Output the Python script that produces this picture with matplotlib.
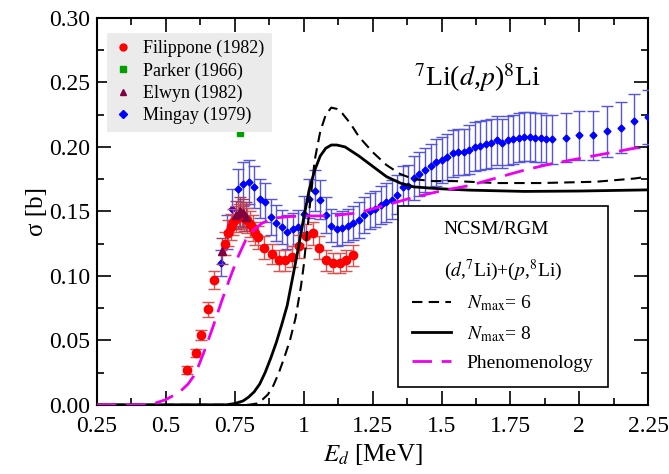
import matplotlib
matplotlib.use('Agg')
from matplotlib import pyplot as plt
from matplotlib.lines import Line2D
from matplotlib.ticker import MultipleLocator, FormatStrFormatter
import numpy as np

plt.rcParams['font.family'] = ['Liberation Serif', 'DejaVu Serif']
plt.rcParams['mathtext.fontset'] = 'stix'

# Filippone (1982)
fil_e = [0.576, 0.608, 0.626, 0.654, 0.676, 0.715, 0.725, 0.735, 0.745, 0.755, 0.765, 0.775,
         0.785, 0.795, 0.805, 0.815, 0.825, 0.835, 0.857, 0.884, 0.910, 0.932, 0.958, 0.984,
         1.007, 1.033, 1.056, 1.080, 1.108, 1.130, 1.154, 1.180]
fil_s = [0.027, 0.040, 0.054, 0.074, 0.097, 0.125, 0.133, 0.138, 0.142, 0.144, 0.146, 0.147,
         0.145, 0.143, 0.140, 0.137, 0.133, 0.130, 0.122, 0.117, 0.112, 0.112, 0.115, 0.123,
         0.131, 0.133, 0.122, 0.112, 0.110, 0.110, 0.112, 0.116]
fil_err = [0.003, 0.003, 0.004, 0.006, 0.007, 0.009, 0.010, 0.010, 0.010, 0.010, 0.010, 0.010,
           0.010, 0.010, 0.010, 0.010, 0.009, 0.009, 0.009, 0.008, 0.008, 0.008, 0.008, 0.009,
           0.009, 0.009, 0.009, 0.008, 0.008, 0.008, 0.008, 0.008]

# Parker (1966)
par_e = [0.769]
par_s = [0.211]
par_xerr = [0.012]

# Elwyn (1982)
elw_e = [0.702, 0.755, 0.768, 0.780, 0.792]
elw_s = [0.119, 0.147, 0.150, 0.149, 0.146]
elw_err = [0.010, 0.011, 0.011, 0.011, 0.011]

# Mingay (1979)
min_e = [0.70, 0.72, 0.74, 0.76, 0.78, 0.80, 0.82, 0.84, 0.86, 0.88, 0.90, 0.92, 0.94, 0.96,
         0.98, 1.00, 1.02, 1.04, 1.06, 1.08, 1.10, 1.12, 1.14, 1.16, 1.18, 1.20, 1.22, 1.24,
         1.26, 1.28, 1.30, 1.32, 1.34, 1.36, 1.38, 1.40, 1.42, 1.44, 1.46, 1.48, 1.50, 1.52,
         1.54, 1.56, 1.58, 1.60, 1.62, 1.64, 1.66, 1.68, 1.70, 1.72, 1.74, 1.76, 1.78, 1.80,
         1.82, 1.84, 1.86, 1.88, 1.90, 1.95, 2.00, 2.05, 2.10, 2.15, 2.20, 2.25]
min_s = [0.110, 0.134, 0.152, 0.167, 0.171, 0.173, 0.169, 0.160, 0.157, 0.146, 0.141, 0.138,
         0.134, 0.136, 0.138, 0.148, 0.160, 0.166, 0.159, 0.147, 0.139, 0.136, 0.137, 0.139,
         0.141, 0.143, 0.147, 0.150, 0.152, 0.155, 0.157, 0.159, 0.163, 0.169, 0.170, 0.176,
         0.179, 0.182, 0.185, 0.188, 0.190, 0.192, 0.195, 0.196, 0.196, 0.198, 0.200, 0.201,
         0.202, 0.203, 0.205, 0.203, 0.205, 0.206, 0.207, 0.208, 0.208, 0.207, 0.207, 0.206,
         0.206, 0.207, 0.209, 0.209, 0.212, 0.215, 0.220, 0.223]
min_err = [0.010, 0.013, 0.015, 0.016, 0.017, 0.017, 0.016, 0.015, 0.015, 0.014, 0.014, 0.013,
           0.013, 0.013, 0.013, 0.014, 0.015, 0.016, 0.015, 0.014, 0.013, 0.013, 0.013, 0.013,
           0.013, 0.014, 0.014, 0.014, 0.014, 0.015, 0.015, 0.015, 0.015, 0.016, 0.016, 0.017,
           0.017, 0.017, 0.017, 0.018, 0.018, 0.018, 0.018, 0.018, 0.018, 0.019, 0.019, 0.019,
           0.019, 0.019, 0.019, 0.019, 0.019, 0.019, 0.019, 0.019, 0.019, 0.019, 0.019, 0.019,
           0.019, 0.019, 0.019, 0.019, 0.020, 0.020, 0.021, 0.021]

# NCSM/RGM Nmax = 6
n6_e = [0.25, 0.80, 0.83, 0.85, 0.87, 0.89, 0.91, 0.93, 0.95, 0.97, 0.99, 1.00, 1.02, 1.04,
        1.06, 1.08, 1.10, 1.12, 1.14, 1.17, 1.20, 1.25, 1.30, 1.35, 1.40, 1.47, 1.55, 1.70,
        1.86, 2.06, 2.20, 2.25]
n6_s = [0.0, 0.0, 0.001, 0.004, 0.008, 0.015, 0.025, 0.037, 0.050, 0.067, 0.092, 0.108, 0.150,
        0.190, 0.212, 0.225, 0.2305, 0.2295, 0.226, 0.218, 0.208, 0.196, 0.186, 0.179, 0.175,
        0.1735, 0.1735, 0.172, 0.172, 0.173, 0.1755, 0.177]

# NCSM/RGM Nmax = 8
n8_e = [0.25, 0.72, 0.75, 0.78, 0.80, 0.82, 0.84, 0.86, 0.88, 0.90, 0.92, 0.94, 0.96, 0.98,
        1.00, 1.02, 1.04, 1.06, 1.08, 1.10, 1.12, 1.15, 1.20, 1.25, 1.30, 1.35, 1.40, 1.50,
        1.60, 1.80, 2.00, 2.25]
n8_s = [0.0, 0.0, 0.001, 0.003, 0.006, 0.010, 0.016, 0.025, 0.036, 0.048, 0.062, 0.077, 0.099,
        0.121, 0.145, 0.167, 0.182, 0.193, 0.199, 0.2015, 0.2015, 0.200, 0.193, 0.185, 0.177,
        0.172, 0.169, 0.1675, 0.1665, 0.1655, 0.1658, 0.1667]

# Phenomenology
ph_e = [0.25, 0.40, 0.45, 0.50, 0.55, 0.58, 0.60, 0.62, 0.64, 0.67, 0.70, 0.73, 0.76, 0.79,
        0.82, 0.85, 0.90, 0.95, 1.00, 1.10, 1.20, 1.30, 1.40, 1.50, 1.60, 1.70, 1.80, 1.90,
        2.00, 2.10, 2.20, 2.25]
ph_s = [0.0, 0.0, 0.0005, 0.004, 0.010, 0.016, 0.022, 0.031, 0.042, 0.060, 0.079, 0.097, 0.114,
        0.128, 0.136, 0.141, 0.145, 0.146, 0.1465, 0.1465, 0.149, 0.155, 0.161, 0.166, 0.170,
        0.176, 0.182, 0.187, 0.191, 0.195, 0.199, 0.201]

fig = plt.figure(figsize=(6.69, 4.74), dpi=100)
ax = fig.add_axes([0.145, 0.146, 0.824, 0.816])

# theory curves
l6, = ax.plot(n6_e, n6_s, color='black', lw=1.5, ls=(0, (5, 3)), zorder=5)
l8, = ax.plot(n8_e, n8_s, color='black', lw=2.0, ls='-', zorder=5)
lph, = ax.plot(ph_e, ph_s, color='#ee00ee', lw=2.0, ls=(0, (7, 3.5)), zorder=5)

# data
ax.errorbar(min_e, min_s, yerr=min_err, fmt='D', ms=3.5, color='#0000ff', ecolor='#5555e0',
            elinewidth=1.0, capsize=4, capthick=1.0, zorder=3)
ax.errorbar(fil_e, fil_s, yerr=fil_err, fmt='o', ms=6, color='#ff0000', ecolor='#e05050',
            elinewidth=1.0, capsize=4, capthick=1.0, zorder=4)
ax.errorbar(elw_e, elw_s, yerr=elw_err, fmt='^', ms=6, color='#800040', ecolor='#a04060',
            elinewidth=1.0, capsize=4, capthick=1.0, zorder=4)
ax.errorbar(par_e, par_s, xerr=par_xerr, fmt='s', ms=5, color='#00a000', ecolor='#00a000',
            elinewidth=1.5, capsize=0, zorder=4)

ax.set_xlim(0.25, 2.25)
ax.set_ylim(0.0, 0.30)
ax.xaxis.set_major_locator(MultipleLocator(0.25))
ax.xaxis.set_minor_locator(MultipleLocator(0.125))
ax.yaxis.set_major_locator(MultipleLocator(0.05))
ax.yaxis.set_minor_locator(MultipleLocator(0.025))
ax.xaxis.set_major_formatter(FormatStrFormatter('%g'))
ax.yaxis.set_major_formatter(FormatStrFormatter('%.2f'))
ax.tick_params(which='both', direction='in', top=True, right=True, labelsize=17, width=1.2)
ax.tick_params(which='major', length=10)
ax.tick_params(which='minor', length=5)
ax.tick_params(axis='x', which='major', pad=8)
ax.tick_params(axis='y', which='major', pad=5)
for sp in ax.spines.values():
    sp.set_linewidth(1.5)

ax.set_xlabel(r'$E_d$ [MeV]', fontsize=18, labelpad=4)
ax.set_ylabel('σ [b]', fontsize=18, labelpad=1)

ax.text(0.69, 0.845, r'$^{7}$Li($d$,$p$)$^{8}$Li', transform=ax.transAxes, fontsize=20,
        ha='center', va='center')

# experiment legend
exp_handles = [
    Line2D([], [], ls='', marker='o', ms=5, color='#ff0000'),
    Line2D([], [], ls='', marker='s', ms=4.5, color='#00a000'),
    Line2D([], [], ls='', marker='^', ms=5, color='#800040'),
    Line2D([], [], ls='', marker='D', ms=4, color='#0000ff'),
]
leg1 = ax.legend(exp_handles, ['Filippone (1982)', 'Parker (1966)', 'Elwyn (1982)', 'Mingay (1979)'],
                 loc='upper left', bbox_to_anchor=(0.018, 0.962), borderaxespad=0, fontsize=13,
                 frameon=True, fancybox=False, facecolor='#ebebeb', edgecolor='none', framealpha=1,
                 handlelength=1.0, handletextpad=0.6, labelspacing=0.28, borderpad=0.4)
ax.add_artist(leg1)

# theory legend
leg2 = ax.legend([l6, l8, lph], [r'$N_{\rm max}$= 6', r'$N_{\rm max}$= 8', 'Phenomenology'],
                 title='NCSM/RGM\n' + r'($d$,$^{7}$Li)+($p$,$^{8}$Li)',
                 loc='lower right', bbox_to_anchor=(0.927, 0.047), borderaxespad=0, fontsize=14,
                 title_fontsize=14, frameon=True, fancybox=False, edgecolor='black', framealpha=1,
                 handlelength=2.0, handletextpad=0.8, labelspacing=0.55, borderpad=0.75)
leg2.get_frame().set_linewidth(1.2)
leg2.get_title().set_linespacing(2.1)
leg2.set_zorder(10)

fig.savefig('out.png', dpi=100)
